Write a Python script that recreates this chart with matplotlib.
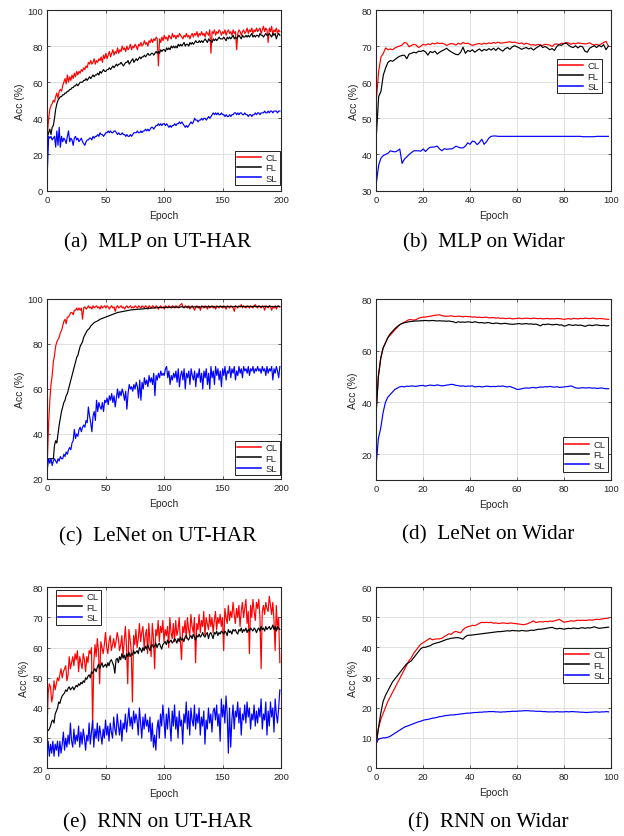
import numpy as np
import matplotlib
matplotlib.use("Agg")
import matplotlib.pyplot as plt

# ---------------- data ----------------
series_names = ["CL", "FL", "SL"]
captions = ["(a)  MLP on UT-HAR", "(b)  MLP on Widar", "(c)  LeNet on UT-HAR",
            "(d)  LeNet on Widar", "(e)  RNN on UT-HAR", "(f)  RNN on Widar"]

# (a) MLP on UT-HAR
mlp_ut_cl = [32, 40, 45, 47, 48, 50, 49, 52, 54, 51,
             55, 56, 55, 58, 60, 62, 59, 64, 60, 63,
             61, 64, 62, 65, 63, 66, 64, 66, 65, 67,
             66, 68, 67, 69, 68, 71, 70, 72, 70, 71,
             73, 70, 72, 71, 73, 72, 74, 71, 75, 73,
             76, 73, 75, 77, 74, 76, 78, 75, 77, 76,
             79, 76, 78, 77, 80, 78, 79, 77, 80, 78,
             79, 81, 78, 80, 79, 81, 80, 78, 81, 80,
             82, 80, 81, 83, 81, 82, 80, 83, 82, 84,
             82, 84, 83, 85, 84, 69, 84, 82, 85, 83,
             86, 84, 85, 83, 86, 85, 84, 87, 85, 86,
             84, 86, 85, 87, 86, 85, 84, 86, 85, 87,
             85, 86, 84, 86, 87, 85, 87, 86, 88, 85,
             87, 86, 88, 86, 87, 85, 88, 87, 86, 89,
             76, 88, 87, 89, 86, 88, 87, 89, 88, 86,
             88, 87, 89, 86, 88, 89, 87, 88, 86, 89,
             87, 88, 78, 87, 89, 88, 86, 88, 89, 87,
             88, 90, 87, 89, 88, 90, 87, 89, 88, 90,
             88, 89, 90, 87, 89, 91, 88, 90, 89, 82,
             90, 88, 91, 86, 89, 88, 90, 87, 89, 88]
mlp_ut_fl = [30, 32, 34, 31, 35, 36, 40, 45, 48, 50,
             51, 52, 52, 53, 53, 54, 54, 55, 55, 56,
             56, 57, 57, 58, 58, 59, 58, 59, 60, 60,
             60, 61, 61, 62, 61, 62, 63, 62, 63, 64,
             63, 64, 64, 65, 64, 66, 65, 66, 67, 66,
             66, 67, 67, 68, 67, 68, 69, 68, 69, 70,
             69, 70, 70, 71, 70, 69, 70, 71, 71, 72,
             70, 71, 72, 73, 71, 72, 73, 72, 73, 74,
             73, 74, 74, 75, 74, 75, 76, 75, 75, 76,
             76, 75, 76, 77, 76, 77, 76, 78, 77, 78,
             78, 77, 79, 78, 79, 78, 80, 79, 80, 79,
             80, 79, 81, 80, 81, 80, 81, 82, 80, 81,
             81, 80, 82, 81, 82, 81, 82, 83, 82, 82,
             83, 82, 83, 82, 83, 84, 83, 82, 84, 83,
             83, 82, 84, 83, 84, 83, 84, 85, 84, 84,
             84, 85, 84, 83, 85, 84, 85, 84, 85, 86,
             84, 85, 84, 85, 86, 85, 84, 86, 85, 85,
             86, 85, 86, 85, 86, 87, 85, 86, 85, 86,
             86, 85, 87, 86, 86, 85, 86, 87, 86, 86,
             87, 86, 85, 87, 86, 87, 84, 86, 87, 86]
mlp_ut_sl = [13, 30, 29, 30, 28, 29, 30, 24, 33, 25,
             35, 24, 30, 27, 29, 28, 26, 30, 33, 27,
             29, 28, 25, 29, 30, 28, 29, 27, 28, 29,
             27, 26, 25, 27, 28, 28, 29, 29, 28, 30,
             29, 30, 30, 31, 30, 32, 31, 31, 30, 31,
             32, 32, 33, 32, 33, 32, 32, 33, 33, 32,
             31, 32, 31, 31, 32, 31, 31, 30, 31, 30,
             30, 31, 30, 31, 32, 32, 32, 33, 32, 32,
             33, 32, 33, 33, 34, 33, 34, 33, 34, 35,
             35, 34, 35, 36, 36, 37, 36, 37, 36, 37,
             37, 36, 37, 36, 35, 36, 35, 36, 36, 37,
             36, 37, 37, 38, 37, 38, 37, 36, 35, 36,
             35, 36, 37, 38, 37, 38, 40, 39, 39, 38,
             39, 39, 40, 39, 40, 40, 39, 40, 41, 40,
             41, 42, 43, 42, 43, 42, 43, 42, 42, 43,
             42, 42, 41, 42, 41, 41, 42, 41, 42, 42,
             43, 43, 42, 43, 42, 43, 43, 42, 42, 43,
             42, 42, 41, 42, 42, 41, 42, 42, 43, 42,
             43, 43, 42, 43, 43, 43, 44, 43, 43, 44,
             43, 44, 44, 43, 44, 44, 44, 43, 44, 44]

# (b) MLP on Widar
mlp_wi_cl = [55, 63, 67, 68, 69.5, 69, 69.2, 69, 69.5, 69.8,
             70, 70.3, 71, 70.8, 69.8, 70.2, 70.5, 70.3, 69.6, 70,
             70.5, 70.3, 70.6, 70.4, 70.8, 70.6, 70.9, 70.7, 70.8, 70.6,
             70.2, 70.5, 70.7, 70.6, 70.3, 70.8, 70.5, 71, 70.7, 70.8,
             70.5, 70.2, 70.4, 70.6, 70.7, 70.5, 70.8, 70.6, 70.9, 70.7,
             71, 70.8, 71.1, 70.8, 70.9, 71, 71.1, 71.2, 71, 71.1,
             70.9, 70.7, 70.9, 70.5, 70.8, 70.6, 70.3, 70.4, 70.2, 70.5,
             70.3, 70.2, 70.5, 70.4, 70.3, 69.9, 70.5, 70.6, 70.4, 70.8,
             70.7, 71, 70.9, 70.5, 70.8, 70.6, 70.9, 70.8, 70.7, 70.6,
             70.7, 70.9, 70.5, 70.3, 70.5, 70.2, 70.6, 71, 71.3, 70]
mlp_wi_fl = [45, 56, 57.5, 62, 64, 65.5, 66, 65.8, 66.3, 66.8,
             67.2, 67.4, 67.5, 66.5, 67.8, 68, 68.3, 68.1, 68.6, 68.5,
             68.8, 68.4, 67.5, 68.5, 68.2, 68.6, 67.8, 68.3, 68.7, 69,
             69.4, 68.8, 68.4, 68, 67.7, 67.6, 68.3, 69.7, 68, 68.8,
             68.5, 69, 68.3, 68.8, 69.2, 68.6, 69.1, 68.8, 69.3, 68.9,
             69.4, 68.8, 69.5, 69, 68.6, 69.3, 69.6, 69.1, 69.8, 70.1,
             69.8, 69.5, 69.1, 69.4, 69.6, 69.2, 69.5, 68.9, 69.4, 69.8,
             70.3, 69.6, 69.9, 69.5, 69, 69.3, 68.8, 69.9, 70.4, 70.2,
             70.7, 70.8, 70.3, 69.8, 69.6, 70.1, 69.5, 70, 69.8, 68.6,
             68.3, 69.4, 69.8, 70.1, 69.6, 70.2, 69.8, 70.4, 69, 70]
mlp_wi_sl = [32, 37, 39, 39.7, 40, 40.3, 41, 40.8, 40.7, 41,
             41.5, 37.5, 38.7, 39.3, 40, 40.5, 41, 41, 41, 40.9,
             41.5, 40.8, 41.5, 42, 42, 42.1, 42.3, 41.5, 41, 41.6,
             41.4, 41.5, 41.5, 41.8, 42.3, 42, 41.8, 41.8, 42.3, 43.2,
             42.8, 43.7, 43.5, 42.7, 43.3, 44.2, 42.8, 43.5, 44.5, 45,
             45.1, 45.1, 45, 45, 45, 45, 45, 45, 45, 45,
             45, 45, 45, 45, 45, 45, 45, 45, 45, 45,
             45, 45, 45, 45, 45, 45, 45, 45, 45, 45,
             45, 45, 45, 45, 45, 45, 45, 45, 44.9, 44.9,
             44.9, 44.9, 44.9, 44.9, 45, 45, 45, 45, 45, 45]

# (c) LeNet on UT-HAR
lenet_ut_cl = [30, 45, 55, 62, 66, 72, 75, 79, 81, 82,
               83, 85, 86, 88, 90, 91, 89, 92, 92, 93,
               94, 94, 93, 95, 95, 96, 95, 96, 95, 96,
               91, 96, 96.5, 95.5, 96, 97, 96, 96.5, 95.5, 97,
               96, 96.5, 97, 96, 96.5, 95.5, 97, 96, 96.5, 97,
               96, 97, 96.5, 95.5, 96.5, 97, 96, 96.5, 94.5, 96.5,
               97, 96, 96.5, 97, 96, 96.5, 95.5, 96.5, 97, 96,
               96.5, 97, 96, 96.5, 96, 97, 96.5, 96, 97, 96.5,
               96, 97, 96.5, 96, 97, 96.5, 95.5, 97, 96.5, 96,
               97, 96.5, 96, 97, 96.5, 95.5, 96.5, 97, 96, 96.5,
               95.5, 97, 96.5, 96, 97, 96.5, 96, 97, 96.5, 96,
               97, 96.5, 96, 97, 97.5, 98, 96.5, 96, 97, 96.5,
               96, 97, 95.5, 96.5, 97, 96, 95, 96.5, 97, 96,
               96.5, 95, 97, 96.5, 96, 97, 96.5, 95.5, 97, 96,
               96.5, 97, 96, 96.5, 95.5, 97, 96.5, 96, 97, 96.5,
               96, 97, 96.5, 95.5, 97, 96.5, 96, 97, 96.5, 96,
               94.5, 97, 96.5, 96, 97, 96.5, 97.5, 96, 97, 96.5,
               96, 97, 96.5, 96, 97, 96.5, 96, 97, 97.5, 96.5,
               96, 97, 96.5, 96, 97, 96.5, 95, 97, 96.5, 96,
               97, 96.5, 95, 96.5, 96, 97, 95.5, 96.5, 97, 96.5]
lenet_ut_fl = [29, 29, 29, 29, 29, 29, 35, 37, 36, 40,
               44, 47, 50, 52, 54, 55, 57, 58, 60, 62,
               64, 66, 68, 70, 72, 74, 75, 77, 79, 80,
               81, 83, 84, 85, 86, 86.5, 87, 88, 88.5, 89,
               89.5, 89.8, 90, 90.3, 90.6, 91, 91.2, 91.4, 91.6, 91.8,
               92, 92.2, 92.4, 92.6, 92.8, 93, 93.2, 93.4, 93.6, 93.8,
               94, 94.1, 94.2, 94.3, 94.4, 94.5, 94.6, 94.7, 94.8, 94.9,
               95, 95.1, 95.2, 95.2, 95.3, 95.3, 95.4, 95.4, 95.5, 95.5,
               95.5, 95.6, 95.6, 95.7, 95.7, 95.8, 95.8, 95.9, 95.9, 96,
               96, 96, 96.1, 96.1, 96.1, 96.2, 96.2, 96.2, 96.2, 96.3,
               96.3, 96.2, 96.4, 96.3, 96.5, 96.2, 96.4, 96.3, 96.5, 96.4,
               96.3, 96.5, 96.4, 96.2, 96.5, 96.6, 96.4, 96.3, 96.5, 96.4,
               96.6, 96.5, 96.3, 96.5, 96.6, 96.4, 96.5, 96.6, 96.4, 96.5,
               96.6, 96.4, 96.5, 96.7, 96.5, 96.4, 96.6, 96.5, 96.7, 96.5,
               96.6, 96.5, 96.7, 96.6, 96.4, 96.6, 96.5, 96.7, 96.6, 96.5,
               96.7, 96.5, 96.6, 96.4, 96.6, 96.7, 96.5, 96.6, 96.7, 96.5,
               96.6, 96.8, 96.6, 96.5, 96.7, 96.6, 96.8, 96.6, 96.7, 96.5,
               96.7, 96.6, 96.8, 96.6, 96.7, 96.5, 96.7, 96.8, 96.6, 96.7,
               96.6, 96.8, 96.7, 96.5, 96.7, 96.6, 96.8, 96.6, 96.7, 96.6,
               96.7, 96.8, 96.6, 96.7, 96.5, 96.7, 96.6, 96.8, 96.7, 96.6]
lenet_ut_sl = [25, 29, 27, 29, 26, 28, 29, 28, 27, 29,
               28, 30, 29, 29, 31, 30, 32, 31, 33, 34,
               33, 36, 37, 42, 38, 40, 39, 42, 43, 41,
               43, 44, 43, 46, 45, 52, 48, 45, 41, 48,
               50, 46, 55, 50, 54, 52, 51, 54, 50, 55,
               54, 56, 53, 57, 55, 58, 54, 57, 52, 56,
               60, 56, 59, 57, 60, 58, 55, 59, 51, 58,
               62, 60, 61, 59, 62, 60, 63, 61, 56, 64,
               55, 63, 60, 65, 62, 64, 61, 66, 63, 65,
               62, 67, 57, 66, 64, 67, 65, 68, 66, 67,
               66, 69, 70, 65, 68, 62, 66, 64, 67, 65,
               68, 63, 69, 61, 66, 68, 64, 69, 60, 67,
               65, 68, 62, 69, 66, 64, 68, 61, 67, 65,
               69, 63, 67, 60, 68, 65, 69, 62, 67, 60,
               70, 65, 68, 62, 70, 66, 69, 64, 68, 61,
               69, 66, 70, 64, 68, 67, 70, 65, 69, 67,
               70, 64, 68, 66, 70, 67, 69, 65, 70, 68,
               69, 67, 70, 66, 69, 68, 70, 67, 69, 68,
               70, 68, 69, 67, 70, 68, 69, 66, 70, 67,
               69, 68, 70, 64, 69, 67, 70, 68, 65, 70]

# (d) LeNet on Widar
lenet_wi_cl = [35, 50, 57, 61, 63, 65, 66, 67, 68, 69,
               70, 70.5, 71, 71.5, 72, 72, 71.8, 72, 72.5, 72.8,
               73, 73, 73.2, 73.3, 73.5, 73.7, 73.8, 73.9, 73.6, 73.4,
               73.3, 73.4, 73.5, 73.3, 73.2, 73.4, 73.3, 73.1, 73.3, 73.2,
               73.2, 73, 73.1, 72.9, 73, 72.8, 72.9, 73, 72.7, 72.8,
               72.8, 72.6, 72.7, 72.5, 72.6, 72.4, 72.5, 72.6, 72.3, 72.4,
               72.5, 72.6, 72.4, 72.5, 72.6, 72.5, 72.4, 72.6, 72.5, 72.4,
               72.5, 72.3, 72.4, 72.5, 72.3, 72.4, 72.3, 72.5, 72.4, 72.3,
               72.1, 72.3, 72.4, 72.2, 72.5, 72.4, 72.3, 72.5, 72.4, 72.6,
               72.5, 72.4, 72.6, 72.5, 72.3, 72.5, 72.4, 72.3, 72.2, 72.1]
lenet_wi_fl = [35, 50, 57, 61, 63, 65, 66.5, 67.5, 68.5, 69.3,
               70, 70.5, 70.8, 71, 71.2, 71.3, 71.4, 71.5, 71.5, 71.6,
               71.6, 71.7, 71.6, 71.6, 71.7, 71.6, 71.5, 71.6, 71.5, 71.5,
               71.4, 71.5, 71.3, 71.2, 70.8, 71.2, 71, 71.1, 71, 71.2,
               71.1, 70.9, 71.2, 71, 70.8, 70.9, 70.7, 70.8, 70.9, 70.6,
               70.5, 70.7, 70.6, 70.4, 70.5, 70.6, 70.4, 70.3, 70.2, 70.3,
               70.4, 70.5, 70.3, 70.4, 70.5, 70.3, 70.4, 70.2, 70.3, 70,
               69.6, 70.2, 70.1, 70.3, 70.2, 70, 70.1, 70.2, 69.9, 70,
               69.5, 69.7, 70.1, 69.9, 69.8, 70, 69.8, 69.9, 69.7, 69.4,
               69.8, 69.9, 69.7, 69.9, 70, 69.8, 69.7, 69.8, 69.6, 69.7]
lenet_wi_sl = [15, 26, 30, 36, 40, 42, 43, 44, 45, 45.5,
               46, 46.2, 46, 46.3, 46.2, 46.4, 46.3, 46.2, 46.4, 46.5,
               46.6, 46.3, 46.5, 46.7, 46.6, 46.5, 46.8, 46.6, 46.4, 46.5,
               46.7, 46.8, 47, 46.9, 46.6, 46.5, 46.3, 46.4, 46.2, 46.3,
               46.3, 46.4, 46, 46.1, 46.2, 46, 46.1, 46.3, 46.2, 46.1,
               46.2, 46.1, 46.3, 46.2, 46.4, 46.1, 46, 46.2, 45.8, 45.5,
               45, 45.1, 45.3, 45.5, 45.6, 45.5, 45.7, 45.8, 45.6, 45.8,
               46, 45.9, 46.1, 46, 46.2, 46, 45.9, 46.1, 45.8, 45.9,
               46, 46.1, 46.2, 46.4, 46, 45.6, 45.5, 45.6, 45.7, 45.6,
               45.6, 45.7, 45.5, 45.6, 45.4, 45.5, 45.6, 45.4, 45.3, 45.3]

# (e) RNN on UT-HAR
rnn_ut_cl = [33, 45, 48, 47, 42, 44, 49, 46, 48, 50,
             49, 51, 53, 50, 52, 53, 54, 49, 51, 57,
             53, 55, 57, 54, 58, 56, 59, 52, 57, 55,
             53, 58, 56, 52, 57, 55, 59, 58, 60, 34,
             55, 61, 57, 63, 59, 48, 62, 60, 58, 61,
             65, 60, 58, 62, 64, 59, 61, 63, 60, 62,
             65, 63, 59, 61, 64, 57, 62, 67, 60, 48,
             66, 63, 59, 42, 64, 61, 66, 60, 63, 68,
             62, 65, 67, 60, 64, 66, 58, 68, 62, 57,
             68, 63, 53, 66, 64, 69, 62, 67, 65, 69,
             62, 66, 64, 67, 60, 70, 65, 63, 68, 62,
             69, 64, 66, 70, 62, 56, 67, 65, 69, 63,
             70, 66, 64, 71, 67, 65, 70, 55, 68, 66,
             71, 65, 69, 67, 72, 64, 70, 68, 66, 71,
             67, 70, 65, 69, 72, 66, 70, 68, 71, 67,
             70, 59, 73, 70, 68, 74, 69, 72, 70, 75,
             71, 68, 73, 70, 74, 67, 72, 75, 70, 73,
             76, 68, 72, 58, 74, 70, 76, 72, 69, 75,
             73, 76, 70, 53, 72, 74, 71, 75, 73, 72,
             77, 74, 71, 75, 69, 59, 74, 66, 70, 55]
rnn_ut_fl = [33, 32.5, 33, 34, 35.5, 36, 35, 38, 39, 40,
             42, 41.5, 43, 44, 44.5, 45, 46, 45.5, 46.5, 47,
             46, 46.5, 47, 46, 46.8, 47.5, 47, 48, 47.5, 48.5,
             48, 49, 48.5, 50, 49.5, 50.5, 51, 50, 52, 51.5,
             52.5, 53, 52, 53.5, 54.5, 53, 54, 55, 53.5, 54,
             54.5, 53.5, 55, 54, 55.5, 56, 55, 54, 51.5, 56,
             56.5, 55, 57, 56, 58, 56.5, 57.5, 56, 58, 57,
             58.5, 57, 58, 57.5, 59, 58, 58.5, 59, 58, 60,
             59.5, 58.5, 60, 59, 60.5, 59.5, 61, 60, 59, 60.5,
             61, 60, 60.5, 61.5, 60, 61, 61.5, 60.5, 59.5, 61,
             61.5, 62, 61, 62.5, 61.5, 62, 62.5, 61.5, 62, 63,
             62.5, 61.5, 63, 62, 63.5, 62.5, 63, 62, 63.5, 64,
             63, 62.5, 63.5, 64, 63, 64.5, 63.5, 62.5, 64, 63.5,
             64.5, 63.5, 64, 65, 64, 63.5, 64.5, 65, 63, 64.5,
             65, 64, 63, 65, 64.5, 65.5, 64, 65, 64.5, 65.5,
             65, 64.5, 65.5, 65, 64, 66, 65, 65.5, 64.5, 66,
             65.5, 66, 65, 64.5, 66, 65.5, 66.5, 65, 66, 65.5,
             66.5, 65, 66, 65.5, 66.5, 66, 65.5, 66.5, 66, 65,
             66, 66.5, 65.5, 67, 66, 66.5, 65.5, 67, 66, 66.5,
             67, 66, 66.5, 67.5, 66, 67, 65.5, 67, 66.5, 66]
rnn_ut_sl = [25, 29, 24, 28, 25, 29, 24, 28, 26, 29,
             24, 29, 25, 28, 32, 26, 30, 27, 31, 28,
             35, 29, 27, 33, 28, 31, 29, 34, 27, 32,
             28, 33, 30, 26, 31, 29, 35, 28, 32, 36,
             27, 33, 30, 35, 29, 34, 31, 28, 33, 30,
             36, 31, 34, 29, 35, 32, 30, 37, 33, 31,
             38, 34, 31, 36, 29, 35, 33, 38, 32, 36,
             40, 34, 37, 33, 39, 35, 38, 36, 31, 40,
             35, 30, 37, 33, 38, 34, 36, 32, 37, 29,
             35, 27, 31, 26, 33, 36, 30, 38, 34, 41,
             36, 30, 38, 33, 40, 35, 29, 39, 34, 41,
             33, 37, 30, 39, 34, 36, 28, 38, 35, 42,
             33, 39, 31, 40, 36, 34, 41, 33, 38, 35,
             40, 31, 37, 34, 39, 28, 36, 33, 40, 35,
             38, 32, 39, 40, 36, 41, 34, 38, 29, 43,
             37, 41, 35, 44, 38, 25, 40, 27, 36, 41,
             33, 39, 37, 42, 35, 40, 31, 38, 36, 41,
             35, 42, 37, 40, 33, 38, 36, 41, 34, 39,
             35, 40, 37, 43, 33, 38, 36, 42, 31, 39,
             34, 42, 37, 40, 32, 43, 38, 35, 40, 46]

# (f) RNN on Widar
rnn_wi_cl = [7, 13, 16, 18, 20, 22, 23.5, 25, 26.5, 28,
             29.5, 31, 32.5, 34, 35.5, 36.5, 38, 39, 40, 41,
             41.5, 42, 42.5, 43, 42.5, 42.7, 42.8, 42.8, 43, 43.5,
             44, 44.5, 44.3, 45, 45.3, 45, 44.8, 45.8, 46.5, 46.8,
             47, 47.3, 47.2, 47.5, 48, 48.3, 48.2, 48.3, 48.2, 48.3,
             48, 48.1, 47.9, 48, 48.1, 48, 47.9, 48.1, 48, 47.9,
             47.8, 47.7, 47.6, 47.5, 47.7, 48, 48.3, 48.8, 48.2, 48.4,
             48.5, 48.4, 48.6, 48.5, 48.7, 48.6, 48.8, 49, 49.3, 48.8,
             48.3, 48.5, 48.6, 48.8, 48.7, 48.8, 49, 48.9, 49, 48.9,
             49, 49.1, 49, 49.2, 49.3, 49.2, 49.4, 49.5, 49.6, 49.7]
rnn_wi_fl = [8, 13, 18, 22, 24, 25.5, 27, 28.5, 29.5, 30.5,
             31.5, 32.5, 33.5, 34.5, 35, 35.5, 36.5, 37.5, 38.5, 39.5,
             40, 40, 40.3, 40.5, 41, 41.3, 41.5, 41.7, 42, 42.3,
             42.6, 42.8, 43, 43.1, 43.2, 43.2, 43, 42.7, 43.5, 44,
             44, 44.1, 44.2, 44.3, 44.4, 44.5, 44.6, 44.7, 44.8, 44.9,
             45, 45.1, 45.2, 45.2, 45.3, 45.4, 45.5, 45.4, 45.6, 45.5,
             45.5, 45.4, 45.6, 45.5, 45.4, 45.5, 45.7, 45.6, 45.8, 46,
             46, 46.1, 46.2, 46.4, 46.5, 46.6, 46.3, 46.1, 46.3, 46.2,
             46, 46.2, 46.3, 46.2, 46.4, 46.3, 46.2, 46.4, 46.5, 46.3,
             46.5, 46.4, 46.6, 46.8, 46.5, 46.3, 46.4, 46.5, 46.6, 46.7]
rnn_wi_sl = [8, 9.5, 9.8, 10, 10, 10.2, 10.5, 11, 11.5, 12,
             12.5, 13, 13.5, 13.8, 14.1, 14.4, 14.7, 15, 15.3, 15.5,
             15.8, 16, 16.1, 16.3, 16.5, 16.6, 16.8, 17, 17.1, 17.3,
             17.4, 17.5, 17.6, 17.6, 17.7, 17.8, 17.9, 18, 18.1, 18.2,
             18.2, 18.3, 18.4, 18.4, 18.5, 18.5, 18.6, 18.6, 18.7, 18.7,
             18.7, 18.6, 18.6, 18.5, 18.6, 18.6, 18.7, 18.7, 18.8, 18.8,
             18.8, 18.9, 18.9, 19, 19, 19, 18.9, 18.9, 18.8, 18.8,
             18.8, 18.7, 18.7, 18.6, 18.6, 18.6, 18.6, 18.7, 18.6, 18.6,
             18.6, 18.7, 18.6, 18.7, 18.7, 18.6, 18.6, 18.5, 18.5, 18.4,
             18.4, 18.5, 18.5, 18.6, 18.6, 18.5, 18.6, 18.6, 18.7, 18.6]

ut_xticks = [0, 50, 100, 150, 200]
wi_xticks = [0, 20, 40, 60, 80, 100]
yticks_list = [[0, 20, 40, 60, 80, 100], [30, 40, 50, 60, 70, 80],
               [20, 40, 60, 80, 100], [20, 40, 60, 80],
               [20, 30, 40, 50, 60, 70, 80], [0, 10, 20, 30, 40, 50, 60]]
ylims = [(0, 100), (30, 80), (20, 100), (10, 80), (20, 80), (0, 60)]

panels = [
    (mlp_ut_cl, mlp_ut_fl, mlp_ut_sl),
    (mlp_wi_cl, mlp_wi_fl, mlp_wi_sl),
    (lenet_ut_cl, lenet_ut_fl, lenet_ut_sl),
    (lenet_wi_cl, lenet_wi_fl, lenet_wi_sl),
    (rnn_ut_cl, rnn_ut_fl, rnn_ut_sl),
    (rnn_wi_cl, rnn_wi_fl, rnn_wi_sl),
]

# ---------------- style ----------------
W, H = 624, 837
plt.rcParams["font.family"] = ["Liberation Sans", "DejaVu Sans"]
AXC = "#262626"
colors = ["#ff0000", "#000000", "#0000ff"]

fig = plt.figure(figsize=(W / 100, H / 100), dpi=100)
fig.patch.set_facecolor("white")

# axes boxes in pixels: left, right, top, bottom
boxes = [(47.5, 281, 11, 191.5), (376.3, 610.7, 11, 191.5),
         (47.5, 281, 300, 480), (376, 611, 300, 481),
         (47, 281, 588.3, 769.3), (376, 611, 588, 769)]
legend_cfg = [("lower right", (0.996, 0.03)), ("upper right", (0.963, 0.729)),
              ("lower right", (0.996, 0.02)), ("lower right", (0.987, 0.044)),
              ("upper left", (0.038, 0.985)), ("upper right", (0.987, 0.663))]
cap_pos = [(158, 243), (484, 243), (158, 537), (488, 535), (158, 823), (488, 823)]

for i, (series, box) in enumerate(zip(panels, boxes)):
    l, r, t, b = box
    ax = fig.add_axes([l / W, 1 - b / H, (r - l) / W, (b - t) / H])
    is_ut = (i % 2 == 0)
    n = len(series[0])
    epochs = np.arange(n)
    for s, c, name in zip(series, colors, series_names):
        ax.plot(epochs, s, color=c, lw=0.85, label=name)
    ax.set_xlim(0, 200 if is_ut else 100)
    ax.set_ylim(*ylims[i])
    ax.set_xticks(ut_xticks if is_ut else wi_xticks)
    ax.set_yticks(yticks_list[i])
    ax.grid(True, color="#dcdcdc", lw=0.6)
    ax.set_axisbelow(True)
    for sp in ax.spines.values():
        sp.set_color(AXC)
        sp.set_linewidth(0.8)
    ax.tick_params(direction="in", length=2.5, width=0.5, color=AXC,
                   labelcolor=AXC, labelsize=6.8, top=True, right=True, pad=3)
    ax.set_xlabel("Epoch", fontsize=7.5, color=AXC, labelpad=4.5)
    ax.set_ylabel("Acc (%)", fontsize=7.5, color=AXC, labelpad=2)
    loc, anchor = legend_cfg[i]
    leg = ax.legend(loc=loc, bbox_to_anchor=anchor, fontsize=6.8, frameon=True,
                    fancybox=False, edgecolor="#000000", framealpha=1,
                    borderaxespad=0, handlelength=2.5, handletextpad=0.5,
                    labelspacing=0.15, borderpad=0.25)
    leg.get_frame().set_linewidth(0.6)
    for h, c in zip(leg.get_lines(), colors):
        h.set_linewidth(1.1)
        h.set_color(c)
    for txt in leg.get_texts():
        txt.set_color(AXC)
    cx, cy = cap_pos[i]
    fig.text(cx / W, 1 - cy / H, captions[i], ha="center", va="center",
             fontsize=15.3, family=["Liberation Serif", "DejaVu Serif"])

fig.savefig("out.png", dpi=100, facecolor="white")
